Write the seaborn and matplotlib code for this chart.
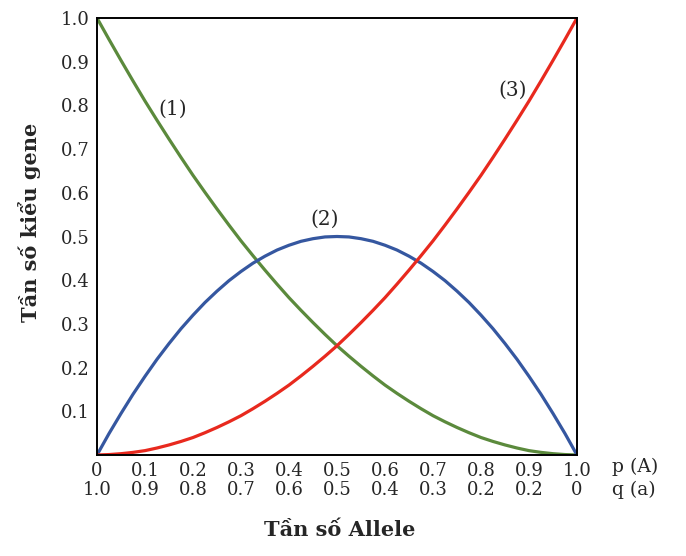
import matplotlib
matplotlib.use("Agg")
import matplotlib.pyplot as plt
import seaborn as sns
import pandas as pd

# allele frequency p(A)
p_values = [0.0, 0.025, 0.05, 0.075, 0.1, 0.125, 0.15, 0.175, 0.2, 0.225, 0.25,
            0.275, 0.3, 0.325, 0.35, 0.375, 0.4, 0.425, 0.45, 0.475, 0.5,
            0.525, 0.55, 0.575, 0.6, 0.625, 0.65, 0.675, 0.7, 0.725, 0.75,
            0.775, 0.8, 0.825, 0.85, 0.875, 0.9, 0.925, 0.95, 0.975, 1.0]
# (1) aa
curve1 = [1.0, 0.951, 0.903, 0.856, 0.81, 0.766, 0.723, 0.681, 0.64, 0.601, 0.563,
          0.526, 0.49, 0.456, 0.423, 0.391, 0.36, 0.331, 0.303, 0.276, 0.25,
          0.226, 0.203, 0.181, 0.16, 0.141, 0.123, 0.106, 0.09, 0.076, 0.063,
          0.051, 0.04, 0.031, 0.023, 0.016, 0.01, 0.006, 0.003, 0.001, 0.0]
# (2) Aa
curve2 = [0.0, 0.049, 0.095, 0.139, 0.18, 0.219, 0.255, 0.289, 0.32, 0.349, 0.375,
          0.399, 0.42, 0.439, 0.455, 0.469, 0.48, 0.489, 0.495, 0.499, 0.5,
          0.499, 0.495, 0.489, 0.48, 0.469, 0.455, 0.439, 0.42, 0.399, 0.375,
          0.349, 0.32, 0.289, 0.255, 0.219, 0.18, 0.139, 0.095, 0.049, 0.0]
# (3) AA
curve3 = [0.0, 0.001, 0.003, 0.006, 0.01, 0.016, 0.023, 0.031, 0.04, 0.051, 0.063,
          0.076, 0.09, 0.106, 0.123, 0.141, 0.16, 0.181, 0.203, 0.226, 0.25,
          0.276, 0.303, 0.331, 0.36, 0.391, 0.423, 0.456, 0.49, 0.526, 0.563,
          0.601, 0.64, 0.681, 0.723, 0.766, 0.81, 0.856, 0.903, 0.951, 1.0]

x_ticks = [0, 0.1, 0.2, 0.3, 0.4, 0.5, 0.6, 0.7, 0.8, 0.9, 1.0]
p_labels = ["0", "0.1", "0.2", "0.3", "0.4", "0.5", "0.6", "0.7", "0.8", "0.9", "1.0"]
q_labels = ["1.0", "0.9", "0.8", "0.7", "0.6", "0.5", "0.4", "0.3", "0.2", "0.2", "0"]
y_ticks = [0.1, 0.2, 0.3, 0.4, 0.5, 0.6, 0.7, 0.8, 0.9, 1.0]
y_labels = ["0.1", "0.2", "0.3", "0.4", "0.5", "0.6", "0.7", "0.8", "0.9", "1.0"]

sns.set_style("white")
plt.rcParams["font.family"] = ["DejaVu Serif", "Liberation Serif"]

fig = plt.figure(figsize=(6.86, 5.56), dpi=100)
ax = fig.add_axes([97 / 686, 1 - 455 / 556, 480 / 686, 437 / 556])

df = pd.DataFrame({"p": p_values, "c1": curve1, "c2": curve2, "c3": curve3})
sns.lineplot(data=df, x="p", y="c1", ax=ax, color="#5b8a3c", linewidth=2.3)
sns.lineplot(data=df, x="p", y="c2", ax=ax, color="#3557a0", linewidth=2.3)
sns.lineplot(data=df, x="p", y="c3", ax=ax, color="#e8291e", linewidth=2.3)

ax.set_xlim(0, 1)
ax.set_ylim(0, 1)
ax.set_xticks(x_ticks)
ax.set_xticklabels([f"{a}\n{b}" for a, b in zip(p_labels, q_labels)],
                   fontsize=13, linespacing=1.05)
ax.set_yticks(y_ticks)
ax.set_yticklabels(y_labels, fontsize=13)
ax.tick_params(axis="both", direction="in", length=9, width=1.4, color="black",
               pad=5)
for s in ax.spines.values():
    s.set_visible(True)
    s.set_color("black")
    s.set_linewidth(1.4)

ax.set_xlabel("Tần số Allele", fontsize=15, fontweight="bold")
ax.xaxis.set_label_coords(0.505, -0.172)
ax.xaxis.label.set_va("center")
ax.set_ylabel("Tần số kiểu gene", fontsize=15, fontweight="bold")
ax.yaxis.set_label_coords(-0.14, 0.533)
ax.yaxis.label.set_va("center")

ax.text(1.073, -0.028, "p (A)", transform=ax.transAxes, fontsize=13.5,
        ha="left", va="center")
ax.text(1.073, -0.08, "q (a)", transform=ax.transAxes, fontsize=13.5,
        ha="left", va="center")

ax.text(0.157, 0.79, "(1)", fontsize=14.5, ha="center", va="center")
ax.text(0.475, 0.54, "(2)", fontsize=14.5, ha="center", va="center")
ax.text(0.865, 0.835, "(3)", fontsize=14.5, ha="center", va="center")

fig.savefig("out.png", dpi=100)
